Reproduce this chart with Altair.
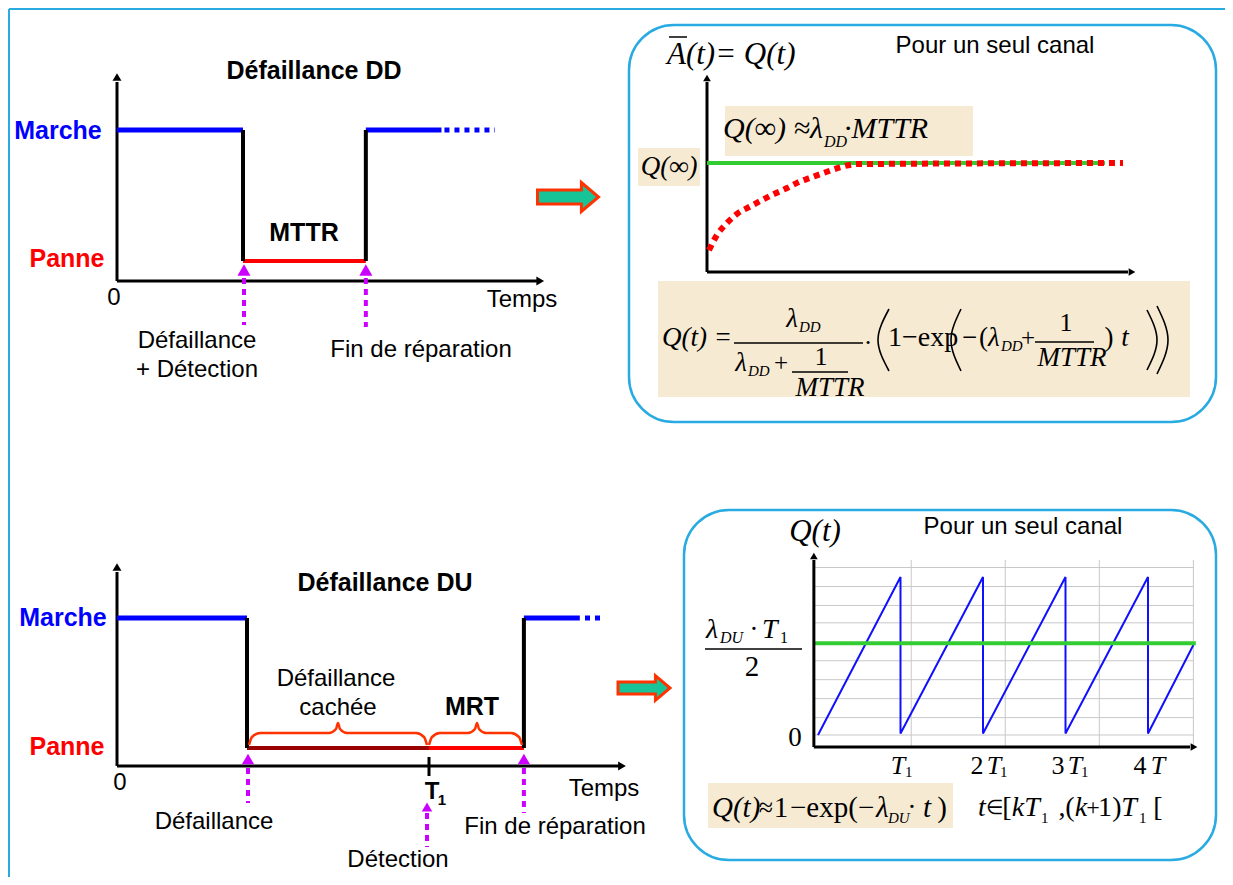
import altair as alt
import pandas as pd

# ---------------- values ----------------
# Top-left: DD failure timing diagram (time in arbitrary units, state 1 = Marche, 0 = Panne)
DD_EVENT_T = [0.0, 2.0, 3.95]        # start, failure + detection, end of repair
DD_STATE = [1, 0, 1]                 # state after each event
DD_SOLID_END = 5.15
DD_DOTS_END = 6.0
DD_AXIS_END = 6.75
DD_AXIS_LEVEL = -0.153

# Bottom-left: DU failure timing diagram
DU_EVENT_T = [0.0, 2.0, 4.8, 6.26]   # start, hidden failure, T1 (detection), end of repair
DU_STATE = [1, 0, 0, 1]
DU_SEG_COLORS = ["#0000ff", "#990000", "#ff0000", "#0000ff"]
DU_T1 = 4.8
DU_SOLID_END = 7.12
DU_DOTS = [7.2, 7.45]
DU_AXIS_END = 7.8
DU_AXIS_LEVEL = -0.138

# Top-right: unavailability Q(t) for a DD failure (normalised, Q(inf) = 1)
Q_T = [0, 0.16, 0.36, 0.58, 0.82, 1.06, 1.32, 1.56, 1.82, 2.06, 2.36, 2.62, 2.96, 8.28]
Q_V = [0.20, 0.34, 0.45, 0.54, 0.60, 0.66, 0.72, 0.77, 0.83, 0.87, 0.92, 0.96, 0.99, 1.0]
Q_INF = 1.0
Q_INF_T = [-0.04, 7.92]

# Bottom-right: sawtooth Q(t) for a DU failure (t in T1 units, Q in lambda_DU*T1 units)
SAW_T = [0, 1, 1, 2, 2, 3, 3, 4, 4, 4.55]
SAW_Q = [0, 1, 0.01, 1, 0.01, 1, 0.01, 1, 0.01, 0.57]
SAW_MEAN = 0.58
SAW_MEAN_T = [-0.05, 4.58]
GRID_T = [1.13, 2.27, 3.41, 4.55]
GRID_Q = [0.0, 0.11, 0.23, 0.35, 0.47, 0.58, 0.71, 0.82, 0.94, 1.06]

# ---------------- layout (page pixels) ----------------
LAYOUT = {
    "dd": dict(x0=117, sx=63, y0=261, sy=131),
    "du": dict(x0=117, sx=65, y0=748, sy=130),
    "qa": dict(x0=709, sx=50, y0=272, sy=109),
    "sw": dict(x0=818, sx=82.5, y0=735, sy=158),
}


def px(p, t):
    L = LAYOUT[p]
    return L["x0"] + L["sx"] * t


def py(p, v):
    L = LAYOUT[p]
    return L["y0"] - L["sy"] * v


BLUE, RED, BLACK, MAG = "#0000ff", "#ff0000", "#000000", "#cc00ff"
GREEN, CYAN, BEIGE = "#33cc33", "#29abe2", "#f7ead3"

XS = alt.Scale(domain=[8, 1225], nice=False, zero=False)
YS = alt.Scale(domain=[8, 877], nice=False, zero=False, reverse=True)
X = alt.X("x:Q", scale=XS, axis=None)
Y = alt.Y("y:Q", scale=YS, axis=None)
X2 = alt.X2("x2:Q")
Y2 = alt.Y2("y2:Q")

# ---------------- segments ----------------
solid = []


def seg(x, y, x2, y2, c=BLACK, w=3):
    solid.append(dict(x=x, y=y, x2=x2, y2=y2, c=c, w=w))


# frame
seg(9, 9, 1225, 9, CYAN, 2)
seg(9, 9, 9, 877, CYAN, 2)

# DD timing diagram
ay = py("dd", DD_AXIS_LEVEL)
seg(px("dd", 0), ay, px("dd", 0), 82)
seg(px("dd", 0), ay, px("dd", DD_AXIS_END) - 4, ay)
ends = DD_EVENT_T[1:] + [DD_SOLID_END]
for i, t in enumerate(DD_EVENT_T):
    s = DD_STATE[i]
    seg(px("dd", t), py("dd", s), px("dd", ends[i]), py("dd", s), BLUE if s == 1 else RED, 5 if s == 1 else 4)
    if i > 0:
        seg(px("dd", t), py("dd", DD_STATE[i - 1]), px("dd", t), py("dd", s), BLACK, 4)

# DU timing diagram
ay2 = py("du", DU_AXIS_LEVEL)
seg(px("du", 0), ay2, px("du", 0), 572)
seg(px("du", 0), ay2, px("du", DU_AXIS_END) - 4, ay2)
ends = DU_EVENT_T[1:] + [DU_SOLID_END]
for i, t in enumerate(DU_EVENT_T):
    s = DU_STATE[i]
    seg(px("du", t), py("du", s), px("du", ends[i]), py("du", s), DU_SEG_COLORS[i], 5 if s == 1 else 4)
    if i > 0 and DU_STATE[i - 1] != s:
        seg(px("du", t), py("du", DU_STATE[i - 1]), px("du", t), py("du", s), BLACK, 4)
seg(px("du", DU_T1), 757, px("du", DU_T1), 776, BLACK, 3)

# Q(t) DD panel
seg(px("qa", -0.04), py("qa", 0), px("qa", -0.04), 82)
seg(px("qa", -0.04), py("qa", 0), 1128, py("qa", 0))
seg(px("qa", Q_INF_T[0]), py("qa", Q_INF), px("qa", Q_INF_T[1]), py("qa", Q_INF), GREEN, 4)

# sawtooth panel axes
seg(px("sw", -0.05), 747, px("sw", -0.05), 560)
seg(px("sw", -0.05), 747, 1190, 747)

# fraction bars / overline
for (a, b, yy) in [(734, 863, 343), (1035, 1094, 342), (792, 848, 372), (705, 802, 649)]:
    seg(a, yy, b, yy, BLACK, 1.3)
seg(669, 37, 687, 37, BLACK, 1.5)

grid = []
for t in GRID_T:
    grid.append(dict(x=px("sw", t), y=560, x2=px("sw", t), y2=747))
for q in GRID_Q:
    grid.append(dict(x=px("sw", -0.05), y=py("sw", q), x2=px("sw", GRID_T[-1]), y2=py("sw", q)))

green2 = [dict(x=px("sw", SAW_MEAN_T[0]), y=py("sw", SAW_MEAN), x2=px("sw", SAW_MEAN_T[1]), y2=py("sw", SAW_MEAN))]

blue_dots = [
    dict(x=px("dd", DD_SOLID_END) + 3, y=py("dd", 1), x2=px("dd", DD_DOTS_END), y2=py("dd", 1)),
    dict(x=px("du", DU_DOTS[0]), y=py("du", 1), x2=px("du", DU_DOTS[1]), y2=py("du", 1)),
]

mag = [
    dict(x=px("dd", 2.0) + 1, y=278, x2=px("dd", 2.0) + 1, y2=325),
    dict(x=px("dd", 3.95), y=278, x2=px("dd", 3.95), y2=327),
    dict(x=px("du", 2.0) + 1, y=768, x2=px("du", 2.0) + 1, y2=803),
    dict(x=px("du", 6.26), y=768, x2=px("du", 6.26), y2=813),
    dict(x=px("du", DU_T1) - 2, y=813, x2=px("du", DU_T1) - 2, y2=847),
]

# ---------------- lines ----------------
qline = pd.DataFrame({"x": [px("qa", t) for t in Q_T], "y": [py("qa", v) for v in Q_V], "o": range(len(Q_T))})
saw = pd.DataFrame({"x": [px("sw", t) for t in SAW_T], "y": [py("sw", q) for q in SAW_Q], "o": range(len(SAW_T))})

braces = []
for g, (a, c, b) in enumerate([(249, 338, 427), (429, 477, 522)]):
    pts = [(a, 745), (a + 3, 737), (a + 11, 733), (c - 9, 733), (c - 2, 729), (c, 723),
           (c + 2, 729), (c + 9, 733), (b - 11, 733), (b - 3, 737), (b, 745)]
    for k, (xx, yy) in enumerate(pts):
        braces.append(dict(x=xx, y=yy, g=g, o=k))

parens = []
for g, pts in enumerate([
    [(889, 309), (878, 340), (889, 371)],
    [(961, 309), (951, 340), (961, 371)],
    [(1147, 310), (1157, 340), (1147, 370)],
    [(1157, 306), (1168, 340), (1157, 374)],
]):
    for k, (xx, yy) in enumerate(pts):
        parens.append(dict(x=xx, y=yy, g=g, o=k))

# ---------------- boxes ----------------
panels = pd.DataFrame([
    dict(x=629, y=25, x2=1216, y2=422),
    dict(x=684, y=510, x2=1216, y2=860),
])
beige = pd.DataFrame([
    dict(x=638, y=148, x2=700, y2=186),
    dict(x=725, y=106, x2=973, y2=156),
    dict(x=658, y=281, x2=1190, y2=397),
    dict(x=708, y=783, x2=953, y2=828),
])

# ---------------- symbols ----------------
tri = pd.DataFrame([
    dict(x=px("dd", 0), y=77, s="triangle-up", z=80, c=BLACK),
    dict(x=px("dd", DD_AXIS_END) - 2, y=ay, s="triangle-right", z=80, c=BLACK),
    dict(x=px("du", 0), y=567, s="triangle-up", z=80, c=BLACK),
    dict(x=px("du", DU_AXIS_END) - 2, y=ay2, s="triangle-right", z=80, c=BLACK),
    dict(x=px("qa", -0.04), y=78, s="triangle-up", z=60, c=BLACK),
    dict(x=1132, y=py("qa", 0), s="triangle-right", z=60, c=BLACK),
    dict(x=px("sw", -0.05), y=556, s="triangle-up", z=60, c=BLACK),
    dict(x=1194, y=747, s="triangle-right", z=60, c=BLACK),
    dict(x=px("dd", 2.0) + 1, y=270, s="triangle-up", z=170, c=MAG),
    dict(x=px("dd", 3.95), y=270, s="triangle-up", z=170, c=MAG),
    dict(x=px("du", 2.0) + 1, y=759, s="triangle-up", z=150, c=MAG),
    dict(x=px("du", 6.26), y=759, s="triangle-up", z=150, c=MAG),
    dict(x=px("du", DU_T1) - 2, y=807, s="triangle-up", z=110, c=MAG),
])
ARROW = "M -1 -0.23 L 0.44 -0.23 L 0.44 -0.475 L 1 0 L 0.44 0.475 L 0.44 0.23 L -1 0.23 Z"
arrows = pd.DataFrame([dict(x=568, y=197, z=3721), dict(x=644, y=688, z=2704)])

# ---------------- texts ----------------
SANS, SERIF = "Liberation Sans", "Liberation Serif"
texts = []


def T(text, x, y, size, font=SANS, style="normal", weight="normal", align="center", color=BLACK):
    texts.append(dict(text=text, x=x, y=y, size=size, font=font, style=style, weight=weight, align=align, color=color))


for (t, x, y) in [("Pour un seul canal", 995, 46), ("Pour un seul canal", 1023, 527), ("0", 114, 298),
                  ("Temps", 522, 300), ("Défaillance", 197, 341), ("+ Détection", 197, 370),
                  ("Fin de réparation", 421, 350), ("0", 120, 783), ("Temps", 604, 789),
                  ("Défaillance", 336, 679), ("cachée", 338, 708), ("Défaillance", 214, 822),
                  ("Détection", 398, 860), ("Fin de réparation", 555, 827)]:
    T(t, x, y, 24)
for (t, x, y, c) in [("Défaillance DD", 314, 71, BLACK), ("Marche", 58, 131, BLUE), ("Panne", 67, 259, RED),
                     ("MTTR", 304, 233, BLACK), ("Défaillance DU", 385, 583, BLACK), ("Marche", 63, 618, BLUE),
                     ("Panne", 67, 747, RED), ("MRT", 472, 707, BLACK)]:
    T(t, x, y, 25, weight="bold", color=c)
T("T", 432, 792, 24, weight="bold")
T("1", 442, 800, 15, weight="bold")

I, R = "italic", "normal"
math = [
    ("A(t)= Q(t)", 667, 55, 31, I, "left"),
    ("Q(∞)", 669, 167, 27, I, "center"),
    ("Q(∞) ≈λ", 823, 129, 30, I, "right"), ("DD", 824, 142, 16, I, "left"), ("·MTTR", 844, 129, 30, I, "left"),
    ("Q(t) =", 697, 338, 27, I, "center"),
    ("λ", 792, 319, 27, I, "center"), ("DD", 799, 327, 15, I, "left"),
    ("·", 868, 343, 26, R, "center"), ("1−exp", 888, 338, 28, R, "left"), ("−", 962, 338, 27, R, "left"),
    ("(", 979, 338, 27, R, "left"), ("λ", 988, 338, 27, I, "left"), ("DD", 1001, 346, 15, I, "left"),
    ("+", 1021, 338, 25, R, "left"),
    ("1", 1066, 323, 26, R, "center"), ("MTTR", 1072, 358, 27, I, "center"),
    (")", 1109, 338, 27, R, "center"), ("t", 1125, 338, 27, I, "center"),
    ("λ", 741, 363, 27, I, "center"), ("DD", 748, 371, 15, I, "left"), ("+", 781, 363, 25, R, "center"),
    ("1", 821, 357, 26, R, "center"), ("MTTR", 830, 388, 27, I, "center"),
    ("Q(t)", 815, 532, 31, I, "center"),
    ("λ", 706, 630, 28, I, "left"), ("DU", 720, 638, 16, I, "left"), ("·", 754, 630, 28, R, "center"),
    ("T", 762, 630, 28, I, "left"), ("1", 780, 638, 16, R, "left"),
    ("2", 752, 667, 29, R, "center"), ("0", 795, 738, 27, R, "center"),
    ("T", 898, 766, 26, I, "center"), ("1", 905, 772, 15, R, "left"),
    ("2", 977, 766, 26, R, "center"), ("T", 994, 766, 26, I, "center"), ("1", 1000, 772, 15, R, "left"),
    ("3", 1058, 766, 26, R, "center"), ("T", 1075, 766, 26, I, "center"), ("1", 1081, 772, 15, R, "left"),
    ("4", 1140, 766, 26, R, "center"), ("T", 1158, 766, 26, I, "center"),
    ("Q(t)", 712, 808, 29, I, "left"), ("≈", 766, 808, 26, R, "center"), ("1", 781, 808, 29, R, "center"),
    ("−exp(−", 790, 808, 29, R, "left"), ("λ", 876, 808, 29, I, "left"), ("DU", 888, 818, 15, I, "left"),
    ("·", 912, 808, 28, R, "center"), ("t", 927, 808, 29, I, "center"), (")", 942, 808, 29, R, "center"),
    ("t", 982, 808, 28, I, "center"), ("∈", 994, 808, 20, R, "center"), ("[", 1007, 808, 28, R, "center"),
    ("k", 1018, 808, 28, I, "center"), ("T", 1032, 808, 28, I, "center"), ("1", 1041, 818, 15, R, "left"),
    (",", 1062, 808, 28, R, "center"), ("(", 1070, 808, 28, R, "center"), ("k", 1081, 808, 28, I, "center"),
    ("+", 1093, 808, 24, R, "center"), ("1", 1105, 808, 28, R, "center"), (")", 1117, 808, 28, R, "center"),
    ("T", 1129, 808, 28, I, "center"), ("1", 1139, 818, 15, R, "left"), ("[", 1158, 808, 28, R, "center"),
]
for (t, x, y, s, st, al) in math:
    T(t, x, y, s, font=SERIF, style=st, align=al)

# ---------------- chart ----------------
layers = []
layers.append(alt.Chart(beige).mark_rect(color=BEIGE).encode(x=X, y=Y, x2=X2, y2=Y2))
layers.append(alt.Chart(panels).mark_rect(fillOpacity=0, stroke=CYAN, strokeWidth=2.5, cornerRadius=45)
              .encode(x=X, y=Y, x2=X2, y2=Y2))
layers.append(alt.Chart(pd.DataFrame(grid)).mark_rule(color="#c8c8c8", strokeWidth=1)
              .encode(x=X, y=Y, x2=X2, y2=Y2))
layers.append(alt.Chart(saw).mark_line(color="#1010ff", strokeWidth=2)
              .encode(x=X, y=Y, order="o:Q"))
layers.append(alt.Chart(pd.DataFrame(green2)).mark_rule(color=GREEN, strokeWidth=4)
              .encode(x=X, y=Y, x2=X2, y2=Y2))
layers.append(alt.Chart(pd.DataFrame(solid)).mark_rule(strokeCap="butt")
              .encode(x=X, y=Y, x2=X2, y2=Y2, color=alt.Color("c:N", scale=None),
                      strokeWidth=alt.StrokeWidth("w:Q", scale=None)))
layers.append(alt.Chart(pd.DataFrame(blue_dots)).mark_rule(color=BLUE, strokeWidth=5, strokeDash=[5, 5])
              .encode(x=X, y=Y, x2=X2, y2=Y2))
layers.append(alt.Chart(pd.DataFrame(mag)).mark_rule(color=MAG, strokeWidth=4, strokeDash=[6, 5])
              .encode(x=X, y=Y, x2=X2, y2=Y2))
layers.append(alt.Chart(qline).mark_line(color=RED, strokeWidth=6, strokeDash=[6, 5], interpolate="monotone")
              .encode(x=X, y=Y, order="o:Q"))
layers.append(alt.Chart(pd.DataFrame(braces)).mark_line(color="#ff3300", strokeWidth=2.5, interpolate="monotone")
              .encode(x=X, y=Y, detail="g:N", order="o:Q"))
layers.append(alt.Chart(pd.DataFrame(parens)).mark_line(color=BLACK, strokeWidth=1.6, interpolate="natural")
              .encode(x=X, y=Y, detail="g:N", order="o:Q"))
layers.append(alt.Chart(tri).mark_point(filled=True, opacity=1)
              .encode(x=X, y=Y, shape=alt.Shape("s:N", scale=None), size=alt.Size("z:Q", scale=None),
                      color=alt.Color("c:N", scale=None)))
layers.append(alt.Chart(arrows).mark_point(shape=ARROW, fill="#17c497", stroke="#ff3300", strokeWidth=3,
                                           opacity=1, fillOpacity=1)
              .encode(x=X, y=Y, size=alt.Size("z:Q", scale=None)))

tdf = pd.DataFrame(texts)
for (fam, sty, wt, al), g in tdf.groupby(["font", "style", "weight", "align"]):
    layers.append(alt.Chart(g).mark_text(font=fam, fontStyle=sty, fontWeight=wt, align=al, baseline="middle")
                  .encode(x=X, y=Y, text="text:N", size=alt.Size("size:Q", scale=None),
                          color=alt.Color("color:N", scale=None)))

chart = (alt.layer(*layers)
         .properties(width=1217, height=869, padding=0, background="white",
                     autosize=alt.AutoSizeParams(type="none"))
         .configure_view(stroke=None))

chart.save("out.html", embed_options={"renderer": "svg", "actions": False})
